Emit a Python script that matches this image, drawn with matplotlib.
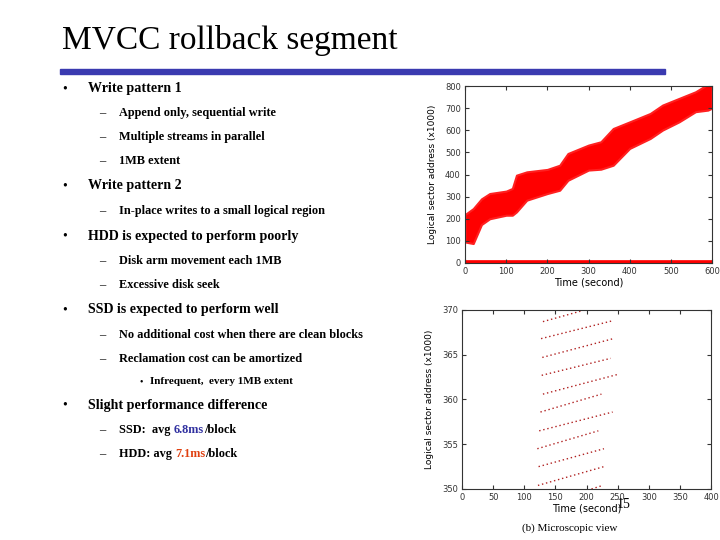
import matplotlib
matplotlib.use("Agg")
import matplotlib.pyplot as plt
from matplotlib.patches import Rectangle

W, H = 720, 540

# slide text
title = "MVCC rollback segment"
bullets = [
    (1, "Write pattern 1", 89),
    (2, "Append only, sequential write", 113),
    (2, "Multiple streams in parallel", 137),
    (2, "1MB extent", 161),
    (1, "Write pattern 2", 186),
    (2, "In-place writes to a small logical region", 211),
    (1, "HDD is expected to perform poorly", 236),
    (2, "Disk arm movement each 1MB", 261),
    (2, "Excessive disk seek", 285),
    (1, "SSD is expected to perform well", 310),
    (2, "No additional cost when there are clean blocks", 335),
    (2, "Reclamation cost can be amortized", 359),
    (3, "Infrequent,  every 1MB extent", 382),
    (1, "Slight performance difference", 405),
]
perf_lines = [("SSD:  avg ", "6.8ms", "/block", "#3030a0", 430),
              ("HDD: avg ", "7.1ms", "/block", "#e04010", 454)]

# macroscopic view: band of written addresses (x1000)
macro_t = [0, 20, 40, 60, 100, 115, 125, 150, 200, 230, 250, 300, 330,
           360, 400, 450, 480, 520, 560, 590, 600]
macro_hi = [219, 246, 290, 314, 325, 337, 397, 412, 423, 442, 495, 533,
            548, 608, 638, 676, 714, 744, 774, 808, 800]
macro_lo = [95, 88, 174, 200, 216, 216, 231, 284, 314, 329, 374, 420,
            424, 442, 518, 563, 601, 638, 684, 691, 700]
low_t = [0, 600]
low_hi = [12, 12]

# microscopic view: sequential streams (start/end time, start/end address)
seg_t0 = [130, 127, 129, 128, 130, 126, 124, 121, 123, 122, 208]
seg_t1 = [192, 242, 243, 239, 250, 224, 242, 219, 228, 228, 226]
seg_a0 = [368.7, 366.8, 364.7, 362.7, 360.6, 358.6, 356.5, 354.5, 352.5, 350.4, 350.0]
seg_a1 = [369.9, 368.8, 366.8, 364.6, 362.8, 360.6, 358.6, 356.5, 354.5, 352.5, 350.4]


def fx(x):
    return x / W


def fy(y):
    return 1 - y / H


fig = plt.figure(figsize=(7.2, 5.4), dpi=100)
serif = ["Liberation Serif", "DejaVu Serif"]

fig.text(fx(62), fy(40), title, fontsize=24, family=serif, va="center")
fig.patches.append(Rectangle((fx(60), fy(74)), fx(665) - fx(60), 5 / H,
                             transform=fig.transFigure, color="#3a3ab0"))

for level, txt, y in bullets:
    if level == 1:
        fig.text(fx(62), fy(y), "•", fontsize=10, family=serif, va="center")
        fig.text(fx(88), fy(y), txt, fontsize=10.1, family=serif, va="center",
                 weight="bold")
    elif level == 2:
        fig.text(fx(99), fy(y), "–", fontsize=9, family=serif, va="center")
        fig.text(fx(119), fy(y), txt, fontsize=8.8, family=serif, va="center",
                 weight="bold")
    else:
        fig.text(fx(140), fy(y), "•", fontsize=7, family=serif, va="center")
        fig.text(fx(150), fy(y), txt, fontsize=8, family=serif, va="center",
                 weight="bold")

for pre, val, post, col, y in perf_lines:
    fig.text(fx(99), fy(y), "–", fontsize=9, family=serif, va="center")
    t1 = fig.text(fx(119), fy(y), pre, fontsize=8.8, family=serif, va="center",
                  weight="bold")
    fig.canvas.draw()
    t2 = fig.text(0, fy(y), val, fontsize=8.8, family=serif, va="center",
                  color=col, weight="bold")
    bb = t1.get_window_extent()
    t2.set_x(bb.x1 / W)
    fig.canvas.draw()
    bb2 = t2.get_window_extent()
    fig.text(bb2.x1 / W, fy(y), post, fontsize=8.8, family=serif, va="center",
             weight="bold")

fig.text(fx(624), fy(505), "15", fontsize=10, family=serif, va="center", ha="center")


def style_axes(ax):
    ax.tick_params(direction="in", top=True, right=True, labelsize=6,
                   length=3, pad=3, colors="#333333")
    for s in ax.spines.values():
        s.set_color("#333333")
        s.set_linewidth(0.8)
    ax.set_xlabel("Time (second)", fontsize=7, labelpad=1)
    ax.set_ylabel("Logical sector address (x1000)", fontsize=6.5, labelpad=6)


# (a) macroscopic view
ax1 = fig.add_axes([fx(465), fy(263), (712 - 465) / W, (263 - 86) / H])
ax1.fill_between(macro_t, macro_lo, macro_hi, color="#ff0000", lw=1.5,
                 edgecolor="#ff2020")
ax1.fill_between(low_t, [0, 0], low_hi, color="#ff0000", lw=0.5)
ax1.set_xlim(0, 600)
ax1.set_ylim(0, 800)
ax1.set_xticks(range(0, 601, 100))
ax1.set_yticks(range(0, 801, 100))
style_axes(ax1)

# (b) microscopic view
ax2 = fig.add_axes([fx(462), fy(489), (711 - 462) / W, (489 - 310) / H])
for t0, t1, a0, a1 in zip(seg_t0, seg_t1, seg_a0, seg_a1):
    ax2.plot([t0, t1], [a0, a1], linestyle=(0, (1, 2)), color="#b02020", lw=1.0)
ax2.set_xlim(0, 400)
ax2.set_ylim(350, 370)
ax2.set_xticks(range(0, 401, 50))
ax2.set_yticks(range(350, 371, 5))
style_axes(ax2)
fig.text(fx(570), fy(528), "(b) Microscopic view", fontsize=8, family=serif,
         ha="center", va="center")

fig.savefig("out.png", dpi=100)
